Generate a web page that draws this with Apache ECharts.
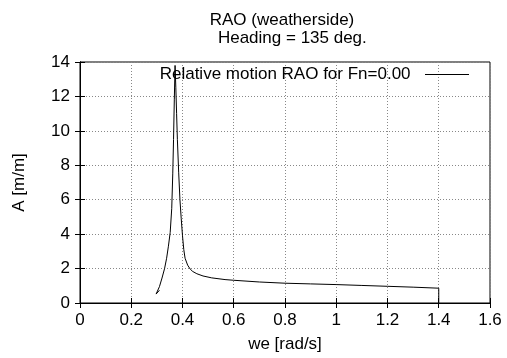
<!DOCTYPE html>
<html><head><meta charset="utf-8">
<script src="https://cdn.jsdelivr.net/npm/echarts@6/dist/echarts.min.js"></script>
<style>html,body{margin:0;padding:0;background:#fff}#c{width:507px;height:358px}</style>
</head><body><div id="c"></div>
<script>
const titleLines = ["RAO (weatherside)", " Heading = 135 deg."];
const seriesName = "Relative motion RAO for Fn=0.00";
const xName = "we [rad/s]";
const yName = "A [m/m]";
const freq = [0.310,0.297,0.310,0.320,0.330,0.338,0.345,0.352,0.358,0.362,0.365,0.368,0.371,0.374,0.377,0.380,0.385,0.390,0.395,0.400,0.405,0.410,0.420,0.430,0.440,0.456,0.480,0.514,0.566,0.600,0.700,0.800,0.900,1.000,1.100,1.200,1.300,1.400,1.400];
const amp  = [0.74,0.52,0.95,1.45,2.0,2.6,3.3,4.1,5.5,7.5,9.5,11.8,13.8,12.5,11.0,9.5,7.6,6.0,4.9,3.9,3.1,2.6,2.2,1.97,1.83,1.70,1.57,1.46,1.36,1.32,1.22,1.15,1.11,1.07,1.02,0.97,0.92,0.86,0];
const xMin=0, xMax=1.6, xStep=0.2, yMin=0, yMax=14, yStep=2;

const font = 'Liberation Sans, Arial, sans-serif';
const fs = 17;
const chart = echarts.init(document.getElementById('c'), null, {renderer:'canvas'});
const data = freq.map((f,i)=>[f,amp[i]]);
const gridLine = {show:true, lineStyle:{color:'#888', type:[1,2], width:1}};
const tick = {show:true,inside:true,length:5,lineStyle:{color:'#000'}};
chart.setOption({
  animation:false,
  backgroundColor:'#fff',
  title:[
    {text:titleLines[0], left:282, top:12, textAlign:'center', padding:0, textStyle:{fontFamily:font,fontSize:fs,fontWeight:'normal',color:'#000'}},
    {text:titleLines[1], left:290, top:30, textAlign:'center', padding:0, textStyle:{fontFamily:font,fontSize:fs,fontWeight:'normal',color:'#000'}}
  ],
  legend:{
    data:[{name:seriesName, icon:'rect'}], right:38, top:66, align:'right', itemWidth:44, itemHeight:1, padding:0,
    formatter: n => n + '  ',
    textStyle:{fontFamily:font,fontSize:fs,color:'#000'}, selectedMode:false
  },
  grid:{left:80, right:17, top:62, bottom:53, show:true, borderColor:'#000', borderWidth:1},
  xAxis:[
    {type:'value', min:xMin, max:xMax, interval:xStep, name:xName, nameLocation:'middle', nameGap:33,
     nameTextStyle:{fontFamily:font,fontSize:fs,color:'#000'},
     axisLine:{show:true,lineStyle:{color:'#000'}}, axisTick:tick,
     axisLabel:{fontFamily:font,fontSize:fs,color:'#000',margin:9, formatter:v=>String(+v.toFixed(1))},
     splitLine:gridLine},
    {type:'value', position:'top', min:xMin, max:xMax, interval:xStep,
     axisLine:{show:true,lineStyle:{color:'#000'}}, axisTick:tick,
     axisLabel:{show:false}, splitLine:{show:false}}
  ],
  yAxis:[
    {type:'value', min:yMin, max:yMax, interval:yStep, name:yName, nameLocation:'middle', nameGap:52,
     nameTextStyle:{fontFamily:font,fontSize:fs,color:'#000'},
     axisLine:{show:true,lineStyle:{color:'#000'}}, axisTick:tick,
     axisLabel:{fontFamily:font,fontSize:fs,color:'#000',margin:10},
     splitLine:gridLine},
    {type:'value', position:'right', min:yMin, max:yMax, interval:yStep,
     axisLine:{show:true,lineStyle:{color:'#000'}}, axisTick:tick,
     axisLabel:{show:false}, splitLine:{show:false}}
  ],
  series:[{name:seriesName, type:'line', data:data, xAxisIndex:0, yAxisIndex:0, symbol:'none', showSymbol:false,
    lineStyle:{color:'#000', width:1}, itemStyle:{color:'#000'}}]
});
</script></body></html>
